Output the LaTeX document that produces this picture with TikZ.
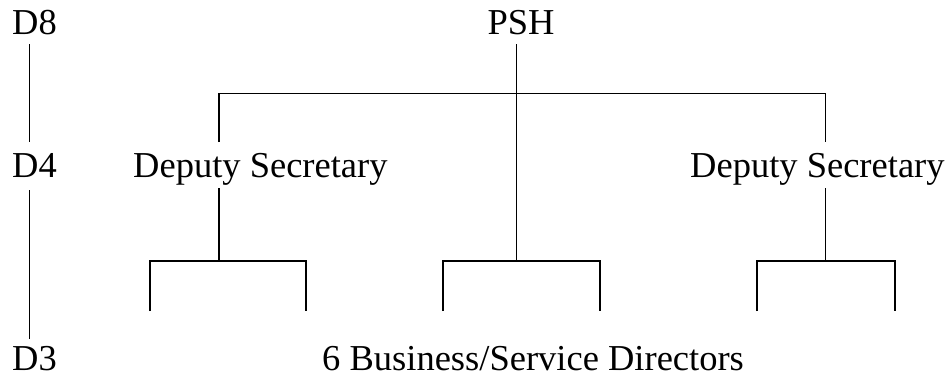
\documentclass[tikz,border=0pt]{standalone}
\usepackage{fontspec}
\setmainfont{Liberation Serif}
\begin{document}
\begin{tikzpicture}[x=1pt,y=-1pt,
  lbl/.style={inner sep=0pt,anchor=base west,font=\fontsize{36.5}{40}\selectfont},
  ln/.style={line width=1.6pt}]
\useasboundingbox (0,0) rectangle (949,378);
% labels
\node[lbl] (d8) at (12,34) {D8};
\node[lbl] (d4) at (12,177) {D4};
\node[lbl] (d3) at (12,370) {D3};
\node[lbl,anchor=base] (psh) at (521,34) {PSH};
\node[lbl] (depl) at (133,177) {Deputy Secretary};
\node[lbl] (depr) at (690,177) {Deputy Secretary};
\node[lbl] (dirs) at (322,370) {6 Business/Service Directors};
% grade scale
\coordinate (g1) at (29.3,44);  \coordinate (g2) at (29.3,142);
\coordinate (g3) at (29.3,190); \coordinate (g4) at (29.3,339);
\draw[ln] (g1) -- (g2);
\draw[ln] (g3) -- (g4);
% top level
\coordinate (ps) at (516.3,44);
\coordinate (pj) at (516.3,93.5);
\coordinate (pm) at (516.3,261);
\coordinate (tl) at (219,93.5);
\coordinate (tr) at (825.5,93.5);
\coordinate (dl) at (219,142);
\coordinate (dr) at (825.5,142);
\draw[ln] (ps) -- (pm);
\draw[ln] (dl) -- (tl) -- (tr) -- (dr);
% left deputy
\coordinate (la) at (219,188);
\coordinate (lj) at (219,261);
\draw[ln] (la) -- (lj);
\draw[ln] (150,311) -- (150,261) -- (306,261) -- (306,311);
% middle
\draw[ln] (443,311) -- (443,261) -- (600,261) -- (600,311);
% right deputy
\coordinate (ra) at (825.5,188);
\coordinate (rj) at (825.5,261);
\draw[ln] (ra) -- (rj);
\draw[ln] (757,311) -- (757,261) -- (895,261) -- (895,311);
\end{tikzpicture}
\end{document}
